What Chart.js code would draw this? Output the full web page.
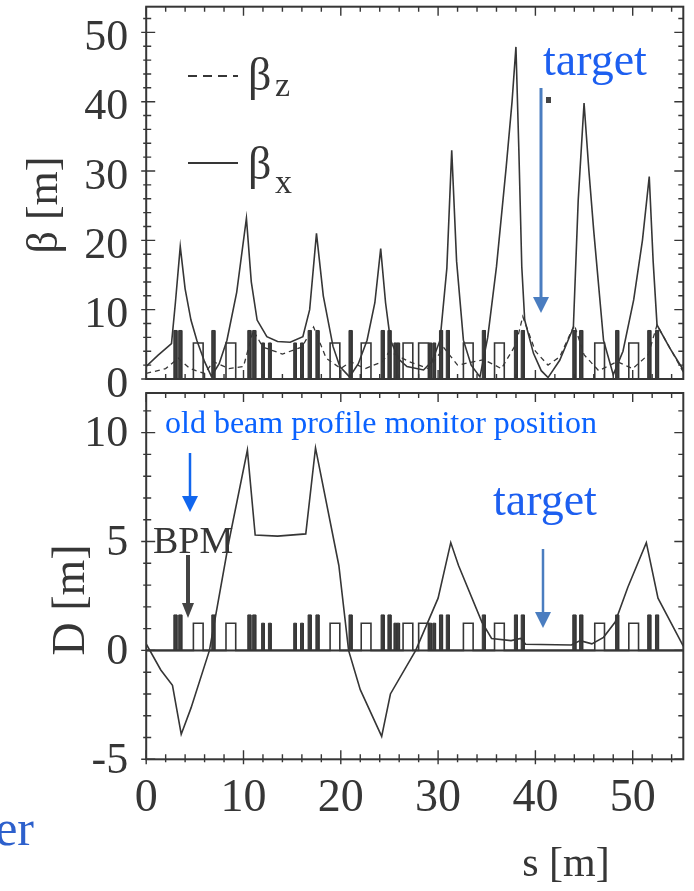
<!DOCTYPE html>
<html>
<head>
<meta charset="utf-8">
<script src="https://cdn.jsdelivr.net/npm/chart.js@4.4.0/dist/chart.umd.min.js"></script>
<style>
  html, body { margin: 0; padding: 0; background: #fff; }
  #wrap { position: relative; width: 694px; height: 891px; overflow: hidden; }
  canvas { position: absolute; left: 0; top: 0; }
</style>
</head>
<body>
<div id="wrap">
  <canvas id="betaChart" width="694" height="891"></canvas>
  <canvas id="dispChart" width="694" height="891"></canvas>
</div>
<script>
const ink = '#363636';
const serif = "'Liberation Serif', 'DejaVu Serif', serif";

// horizontal beta function
const betaXS = [0, 1.2, 2.6, 3.0, 3.5, 4.0, 4.6, 5.2, 6.0, 6.7, 7.5, 8.3, 9.3, 10.3, 10.8, 11.4, 12.4, 13.5, 14.8, 16.1, 16.8, 17.5, 18.2, 19.2, 19.9, 20.9, 21.8, 22.7, 23.5, 24.1, 24.6, 25.1, 26.0, 26.8, 28.5, 29.4, 30.2, 30.9, 31.4, 31.9, 32.6, 33.4, 34.3, 35.1, 36.0, 37.0, 37.6, 38.0, 38.3, 38.6, 38.9, 39.8, 40.6, 41.3, 42.5, 43.9, 44.4, 45.0, 45.5, 46.0, 47.0, 48.0, 49.0, 50.1, 51.0, 51.7, 52.1, 52.5, 53.8, 55.2];
const betaX = [1.8, 3.4, 5.1, 11, 19.1, 13, 8.5, 5.6, 2.5, 0.4, 2.2, 5.6, 12.5, 23.2, 14, 8.5, 6.1, 5.4, 5.3, 6.1, 10, 21.0, 12, 4.7, 1.8, 0.3, 2.2, 5.6, 11, 18.8, 11, 5.6, 2.8, 1.8, 1.3, 2.6, 5.6, 16, 33.0, 17, 5.6, 2.0, 0.3, 6, 16.2, 30.6, 40, 47.9, 33, 16.2, 8.5, 3.7, 1.2, 0.2, 2.7, 7.4, 25.8, 39.8, 30, 21.3, 5.6, 0.6, 4, 11.4, 20, 29.2, 17, 7.8, 4.5, 1.3];

// vertical beta function
const betaZS = [0, 2.0, 3.3, 4.5, 6.0, 6.9, 8.5, 10.0, 11.0, 12.0, 14.0, 16.0, 17.2, 18.5, 20.0, 21.0, 22.5, 24.3, 25.0, 27.0, 29.0, 30.6, 32.0, 34.7, 36.5, 38.0, 38.7, 40.0, 41.3, 42.5, 44.0, 45.0, 46.5, 48.4, 50.0, 51.6, 52.5, 55.2];
const betaZ = [0.8, 1.5, 3.0, 1.5, 0.8, 2.5, 1.5, 1.8, 7.0, 4.6, 3.6, 4.6, 7.5, 3.0, 1.5, 2.5, 1.5, 2.5, 4.0, 2.5, 1.5, 4.5, 2.0, 2.8, 1.5, 5.0, 9.0, 4.0, 2.0, 3.2, 7.8, 3.5, 1.2, 2.5, 1.5, 3.5, 7.8, 1.0];

// dispersion
const dispS = [0, 1.5, 2.7, 3.6, 4.6, 6.5, 8.5, 10.4, 11.2, 13.5, 16.4, 17.4, 19.8, 20.8, 22.0, 24.2, 25.1, 27.7, 30.0, 31.3, 32.1, 34.5, 35.5, 37.5, 38.5, 39.0, 43.7, 44.6, 45.8, 47.0, 48.2, 49.5, 51.4, 52.6, 55.2];
const disp = [0.3, -0.9, -1.6, -3.85, -2.65, 0, 5.0, 9.2, 5.3, 5.25, 5.35, 9.3, 3.9, 0, -1.8, -3.95, -2.0, 0, 2.4, 4.95, 3.9, 1.3, 0.55, 0.45, 0.55, 0.28, 0.25, 0.45, 0.3, 0.6, 1.3, 2.9, 4.95, 2.4, 0.2];

// lattice: quadrupole centres, sextupole centres, dipole entrances [m]
const quadS = [3.0, 3.5, 6.9, 10.6, 11.1, 16.8, 17.6, 21.0, 24.3, 25.0, 30.3, 31.0, 34.7, 38.0, 38.7, 44.0, 44.7, 48.4, 51.7, 52.5];
const sextS = [12.0, 12.7, 15.3, 16.0, 25.6, 25.9, 29.2, 29.6];
const bendS = [4.85, 8.2, 18.9, 22.1, 26.4, 28.0, 32.6, 35.8, 46.1, 49.6];

const sTicks = [0, 10, 20, 30, 40, 50];
const betaTicks = [0, 10, 20, 30, 40, 50];
const dispTicks = [-5, 0, 5, 10];

const S_MAX = 55.2;

function pts(xs, ys) {
  return xs.map((x, i) => ({x: x, y: ys[i]}));
}

// magnet outline as a polyline along the baseline
function magnets(hQuad, hSmall, solid) {
  const items = [];
  quadS.forEach(s => items.push({a: s - 0.16, b: s + 0.16, h: hQuad, solid: true}));
  sextS.forEach(s => items.push({a: s - 0.14, b: s + 0.14, h: hSmall, solid: true}));
  bendS.forEach(s => items.push({a: s, b: s + 1.0, h: hSmall, solid: false}));
  items.sort((p, q) => p.a - q.a);
  const out = [{x: 0, y: 0}];
  items.filter(m => m.solid === solid).forEach(m => {
    out.push({x: m.a, y: 0}, {x: m.a, y: m.h}, {x: m.b, y: m.h}, {x: m.b, y: 0});
  });
  out.push({x: S_MAX, y: 0});
  return out;
}

// frame with tick marks on all four sides
const frameTicks = {
  id: 'frameTicks',
  afterDatasetsDraw(chart, args, o) {
    const {ctx, chartArea: a, scales: {x, y}} = chart;
    ctx.save();
    ctx.strokeStyle = ink;
    ctx.lineWidth = 2;
    ctx.strokeRect(a.left, a.top, a.right - a.left, a.bottom - a.top);
    ctx.lineWidth = 1.4;
    ctx.beginPath();
    for (let i = 0; i * o.xMinor <= x.max + 1e-6; i++) {
      const v = i * o.xMinor;
      const px = x.getPixelForValue(v);
      const major = Math.abs(v / o.xMajor - Math.round(v / o.xMajor)) < 1e-6;
      const len = major ? 9 : 5;
      const out = o.crossBottom ? (major ? 5 : 3) : 0;
      ctx.moveTo(px, a.bottom + out); ctx.lineTo(px, a.bottom - len);
      ctx.moveTo(px, a.top); ctx.lineTo(px, a.top + len);
    }
    for (let i = 0; y.min + i * o.yMinor <= y.max + 1e-6; i++) {
      const v = y.min + i * o.yMinor;
      const py = y.getPixelForValue(v);
      const major = Math.abs(v / o.yMajor - Math.round(v / o.yMajor)) < 1e-6;
      const len = major ? 9 : 5;
      const out = major ? 5 : 3;
      ctx.moveTo(a.left - out, py); ctx.lineTo(a.left + len, py);
      ctx.moveTo(a.right, py); ctx.lineTo(a.right - len, py);
    }
    ctx.stroke();
    if (o.zeroLine) {
      ctx.lineWidth = 2;
      ctx.beginPath();
      ctx.moveTo(a.left, y.getPixelForValue(0));
      ctx.lineTo(a.right, y.getPixelForValue(0));
      ctx.stroke();
    }
    ctx.restore();
  }
};

function arrow(ctx, x, y0, y1, head, w, color, lw) {
  ctx.strokeStyle = color;
  ctx.fillStyle = color;
  ctx.lineWidth = lw;
  ctx.beginPath();
  ctx.moveTo(x, y0);
  ctx.lineTo(x, y1 - head + 1);
  ctx.stroke();
  ctx.beginPath();
  ctx.moveTo(x - w, y1 - head);
  ctx.lineTo(x + w, y1 - head);
  ctx.lineTo(x, y1);
  ctx.closePath();
  ctx.fill();
}

function vtext(ctx, str, cx, cy, size) {
  ctx.save();
  ctx.translate(cx, cy);
  ctx.rotate(-Math.PI / 2);
  ctx.font = size + 'px ' + serif;
  ctx.fillStyle = ink;
  ctx.textAlign = 'center';
  ctx.textBaseline = 'middle';
  ctx.fillText(str, 0, 0);
  ctx.restore();
}

const topNotes = {
  id: 'topNotes',
  afterDraw(chart) {
    const ctx = chart.ctx;
    ctx.save();
    vtext(ctx, 'β [m]', 45, 205, 44);
    // legend
    ctx.strokeStyle = ink;
    ctx.lineWidth = 2;
    ctx.setLineDash([9, 6]);
    ctx.beginPath(); ctx.moveTo(188, 76); ctx.lineTo(238, 76); ctx.stroke();
    ctx.setLineDash([]);
    ctx.beginPath(); ctx.moveTo(188, 163); ctx.lineTo(238, 163); ctx.stroke();
    ctx.fillStyle = ink;
    ctx.textBaseline = 'alphabetic';
    ctx.font = '46px ' + serif;
    ctx.fillText('β', 248, 90);
    ctx.fillText('β', 248, 179);
    ctx.font = '34px ' + serif;
    ctx.fillText('z', 275, 96);
    ctx.fillText('x', 275, 193);
    // target marker
    ctx.fillStyle = '#1d5ff0';
    ctx.font = '46px ' + serif;
    ctx.fillText('target', 543, 75);
    arrow(ctx, 541, 88, 313, 16, 8, '#4a7dc0', 3);
    ctx.fillStyle = '#444';
    ctx.fillRect(546, 97, 5, 6);
    ctx.restore();
  }
};

const bottomNotes = {
  id: 'bottomNotes',
  afterDraw(chart) {
    const ctx = chart.ctx;
    ctx.save();
    vtext(ctx, 'D [m]', 72, 600, 46);
    ctx.textBaseline = 'alphabetic';
    ctx.fillStyle = '#0a62ff';
    ctx.font = '32px ' + serif;
    ctx.fillText('old beam profile monitor position', 165, 433);
    arrow(ctx, 190, 453, 512, 16, 8, '#1166ee', 2.5);
    ctx.fillStyle = ink;
    ctx.font = '38px ' + serif;
    ctx.fillText('BPM', 153, 553);
    arrow(ctx, 188, 555, 618, 15, 6, '#444', 4);
    ctx.fillStyle = '#1d5ff0';
    ctx.font = '46px ' + serif;
    ctx.fillText('target', 493, 515);
    arrow(ctx, 543, 549, 628, 16, 8, '#4a7dc0', 2.5);
    ctx.fillStyle = '#2d60cc';
    ctx.font = '50px ' + serif;
    ctx.textAlign = 'right';
    ctx.fillText('er', 34, 845);
    ctx.fillStyle = ink;
    ctx.font = '42px ' + serif;
    ctx.textAlign = 'center';
    ctx.fillText('s [m]', 566, 876);
    ctx.restore();
  }
};

function lineSet(data, extra) {
  return Object.assign({data: data, borderColor: ink, borderWidth: 1.6, pointRadius: 0, tension: 0, fill: false}, extra || {});
}

function xScale(showLabels, height) {
  return {
    type: 'linear', min: 0, max: S_MAX,
    grid: {display: false, drawTicks: false},
    border: {display: false},
    afterBuildTicks(s) { s.ticks = sTicks.map(v => ({value: v})); },
    ticks: {display: showLabels, color: ink, font: {family: serif, size: 46}, padding: 12, maxRotation: 0},
    afterFit(s) { s.height = height; s.paddingLeft = 0; s.paddingRight = 0; }
  };
}

function yScale(min, max, tickList, offset) {
  return {
    min: min, max: max,
    grid: {display: false, drawTicks: false},
    border: {display: false},
    afterBuildTicks(s) { s.ticks = tickList.map(v => ({value: v})); },
    ticks: {color: ink, font: {family: serif, size: 44}, padding: 18, labelOffset: offset},
    afterFit(s) { s.width = 146.2; s.paddingTop = 0; s.paddingBottom = 0; }
  };
}

new Chart(document.getElementById('betaChart'), {
  type: 'line',
  data: {
    datasets: [
      lineSet(pts(betaXS, betaX)),
      lineSet(pts(betaZS, betaZ), {borderWidth: 1.3, borderDash: [5, 4]}),
      lineSet(magnets(7.0, 5.2, false), {borderWidth: 1.6}),
      lineSet(magnets(7.0, 5.2, true), {borderWidth: 1, fill: 'origin', backgroundColor: '#3d3d3d'})
    ]
  },
  options: {
    responsive: false,
    animation: false,
    layout: {padding: {left: 0, top: 6.7, right: 10.7, bottom: 891 - 379 - 16}},
    plugins: {
      legend: {display: false},
      tooltip: {enabled: false},
      frameTicks: {xMinor: 2, xMajor: 10, yMinor: 2, yMajor: 10, crossBottom: false, zeroLine: false}
    },
    scales: {
      x: xScale(false, 16),
      y: yScale(0, 53.7, betaTicks, 6)
    }
  },
  plugins: [frameTicks, topNotes]
});

new Chart(document.getElementById('dispChart'), {
  type: 'line',
  data: {
    datasets: [
      lineSet(pts(dispS, disp)),
      lineSet(magnets(1.63, 1.25, false), {borderWidth: 1.6}),
      lineSet(magnets(1.63, 1.25, true), {borderWidth: 1, fill: 'origin', backgroundColor: '#3d3d3d'})
    ]
  },
  options: {
    responsive: false,
    animation: false,
    layout: {padding: {left: 0, top: 393, right: 10.7, bottom: 0}},
    plugins: {
      legend: {display: false},
      tooltip: {enabled: false},
      frameTicks: {xMinor: 2, xMajor: 10, yMinor: 1, yMajor: 5, crossBottom: true, zeroLine: true}
    },
    scales: {
      x: xScale(true, 891 - 759.3),
      y: yScale(-5, 11.82, dispTicks, 2)
    }
  },
  plugins: [frameTicks, bottomNotes]
});
</script>
</body>
</html>
